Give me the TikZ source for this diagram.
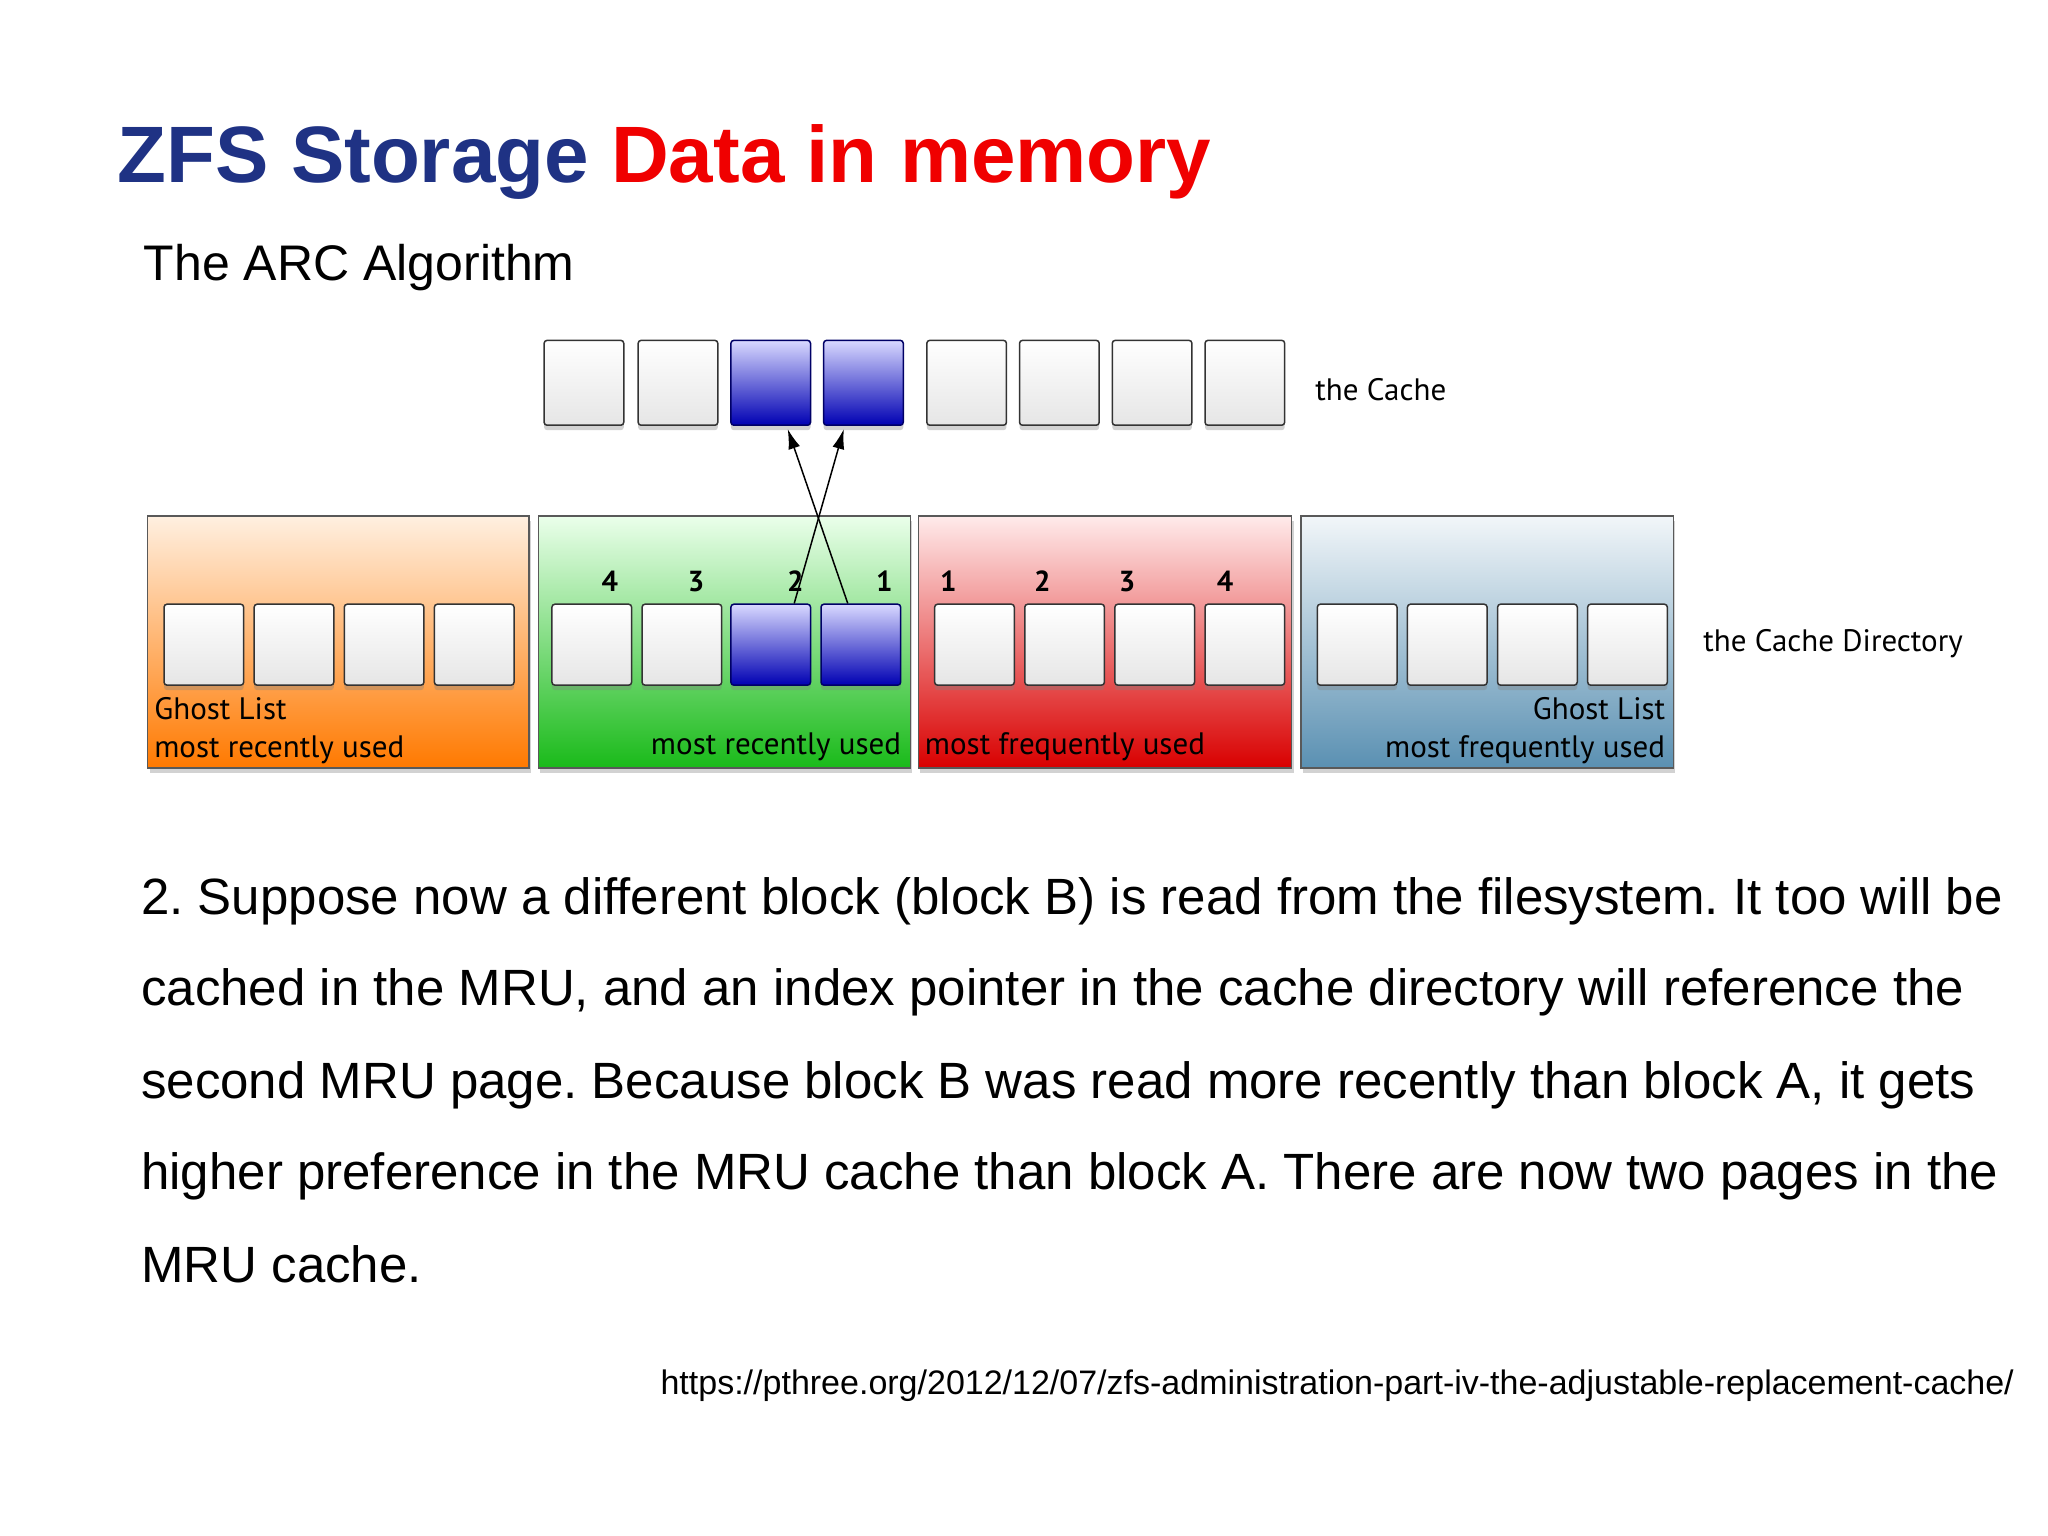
\documentclass[tikz,border=0pt]{standalone}
\usepackage{fontspec}
\setmainfont{Liberation Sans}
\newfontfamily\diag{PT Sans}
\usetikzlibrary{shadows,arrows.meta}
\definecolor{ttblue}{HTML}{1F3284}
\definecolor{ttred}{HTML}{F00000}
\definecolor{gblue}{HTML}{5A90B2}
\frenchspacing
\begin{document}
\begin{tikzpicture}[x=1.306pt,y=-1.306pt,
  panel/.style={draw=gray!70!black,line width=1.2pt,shade,shading angle=0,drop shadow={shadow xshift=2pt,shadow yshift=-5pt,opacity=.35}},
  blk/.style={draw=gray!40!black,line width=1.5pt,rounded corners=3pt,top color=white,bottom color=gray!20,drop shadow={shadow xshift=0pt,shadow yshift=-5pt,opacity=.35}},
  pblk/.style={draw=blue!40!black,line width=1.5pt,rounded corners=3pt,top color=blue!15!white,bottom color=blue!70!black,drop shadow={shadow xshift=0pt,shadow yshift=-5pt,opacity=.35}},
  lab/.style={font=\diag\fontsize{31}{33}\selectfont,inner sep=0pt},
  num/.style={font=\diag\bfseries\fontsize{29}{30}\selectfont,inner sep=0pt},
  arr/.style={-{Latex[length=20pt,width=12pt]},line width=1.5pt}]
\useasboundingbox (0,0) rectangle (1568,1176);
\fill[white] (0,0) rectangle (1568,1176);
% title
\node[anchor=base west,inner sep=0pt,font=\bfseries\fontsize{80}{86}\selectfont] (title) at (90,140) {\textcolor{ttblue}{ZFS Storage} \textcolor{ttred}{Data in memory}};
\node[anchor=base west,inner sep=0pt,font=\fontsize{50}{56}\selectfont] (sub) at (110,215) {The ARC Algorithm};
% panels
\path[panel,top color=orange!12!white,bottom color=orange!95!red] (113,395) rectangle (405,588);
\path[panel,top color=green!8!white,bottom color=green!70!black!90] (412,395) rectangle (697,588);
\path[panel,top color=red!8!white,bottom color=red!85!black] (703,395) rectangle (989,588);
\path[panel,top color=gblue!8!white,bottom color=gblue] (996,395) rectangle (1281,588);
% cache blocks
\foreach \n/\x in {1/416,2/488,5/709,6/780,7/851,8/922}
  \node[blk,minimum width=61*1.306pt,minimum height=65*1.306pt,anchor=north west] (c\n) at (\x,260) {};
\foreach \n/\x in {3/559,4/630}
  \node[pblk,minimum width=61*1.306pt,minimum height=65*1.306pt,anchor=north west] (c\n) at (\x,260) {};
% directory blocks
\foreach \n/\x in {1/125,2/194,3/263,4/332,5/422,6/491,9/715,10/784,11/853,12/922,13/1008,14/1077,15/1146,16/1215}
  \node[blk,minimum width=61*1.306pt,minimum height=62*1.306pt,anchor=north west] (d\n) at (\x,462) {};
\foreach \n/\x in {7/559,8/628}
  \node[pblk,minimum width=61*1.306pt,minimum height=62*1.306pt,anchor=north west] (d\n) at (\x,462) {};
% numbers
\node[num] (n4) at (467,445) {4};
\node[num] (n3) at (533,445) {3};
\node[num] (n2) at (609,445) {2};
\node[num] (n1) at (677,445) {1};
\node[num] (m1) at (726,445) {1};
\node[num] (m2) at (798,445) {2};
\node[num] (m3) at (863,445) {3};
\node[num] (m4) at (938,445) {4};
% arrows
\draw[arr] ([xshift=18*1.306pt]d7.north) -- ([xshift=-15*1.306pt,yshift=-3pt]c4.south);
\draw[arr] ([xshift=-10*1.306pt]d8.north) -- ([xshift=13*1.306pt,yshift=-3pt]c3.south);
% labels
\node[lab,anchor=base west] (g1) at (118,551) {Ghost List};
\node[lab,anchor=base west] (g2) at (118,580) {most recently used};
\node[lab,anchor=base east] (g3) at (690,578) {most recently used};
\node[lab,anchor=base west] (g4) at (708,578) {most frequently used};
\node[lab,anchor=base east] (g5) at (1275,551) {Ghost List};
\node[lab,anchor=base east] (g6) at (1275,580) {most frequently used};
\node[lab,anchor=west] (tc) at (1007,298) {the Cache};
\node[lab,anchor=west] (tcd) at (1304,493) {the Cache Directory};
% paragraph
\foreach \t/\y in {{2. Suppose now a different block (block B) is read from the filesystem. It too will be}/700,
  {cached in the MRU, and an index pointer in the cache directory will reference the}/770,
  {second MRU page. Because block B was read more recently than block A, it gets}/841,
  {higher preference in the MRU cache than block A. There are now two pages in the}/911,
  {MRU cache.}/982}
  \node[anchor=base west,inner sep=0pt,font=\fontsize{51}{55}\selectfont] at (108,\y) {\t};
\node[anchor=base east,inner sep=0pt,font=\fontsize{34}{36}\selectfont] (url) at (1542,1068) {https://pthree.org/2012/12/07/zfs-administration-part-iv-the-adjustable-replacement-cache/};
\end{tikzpicture}
\end{document}
